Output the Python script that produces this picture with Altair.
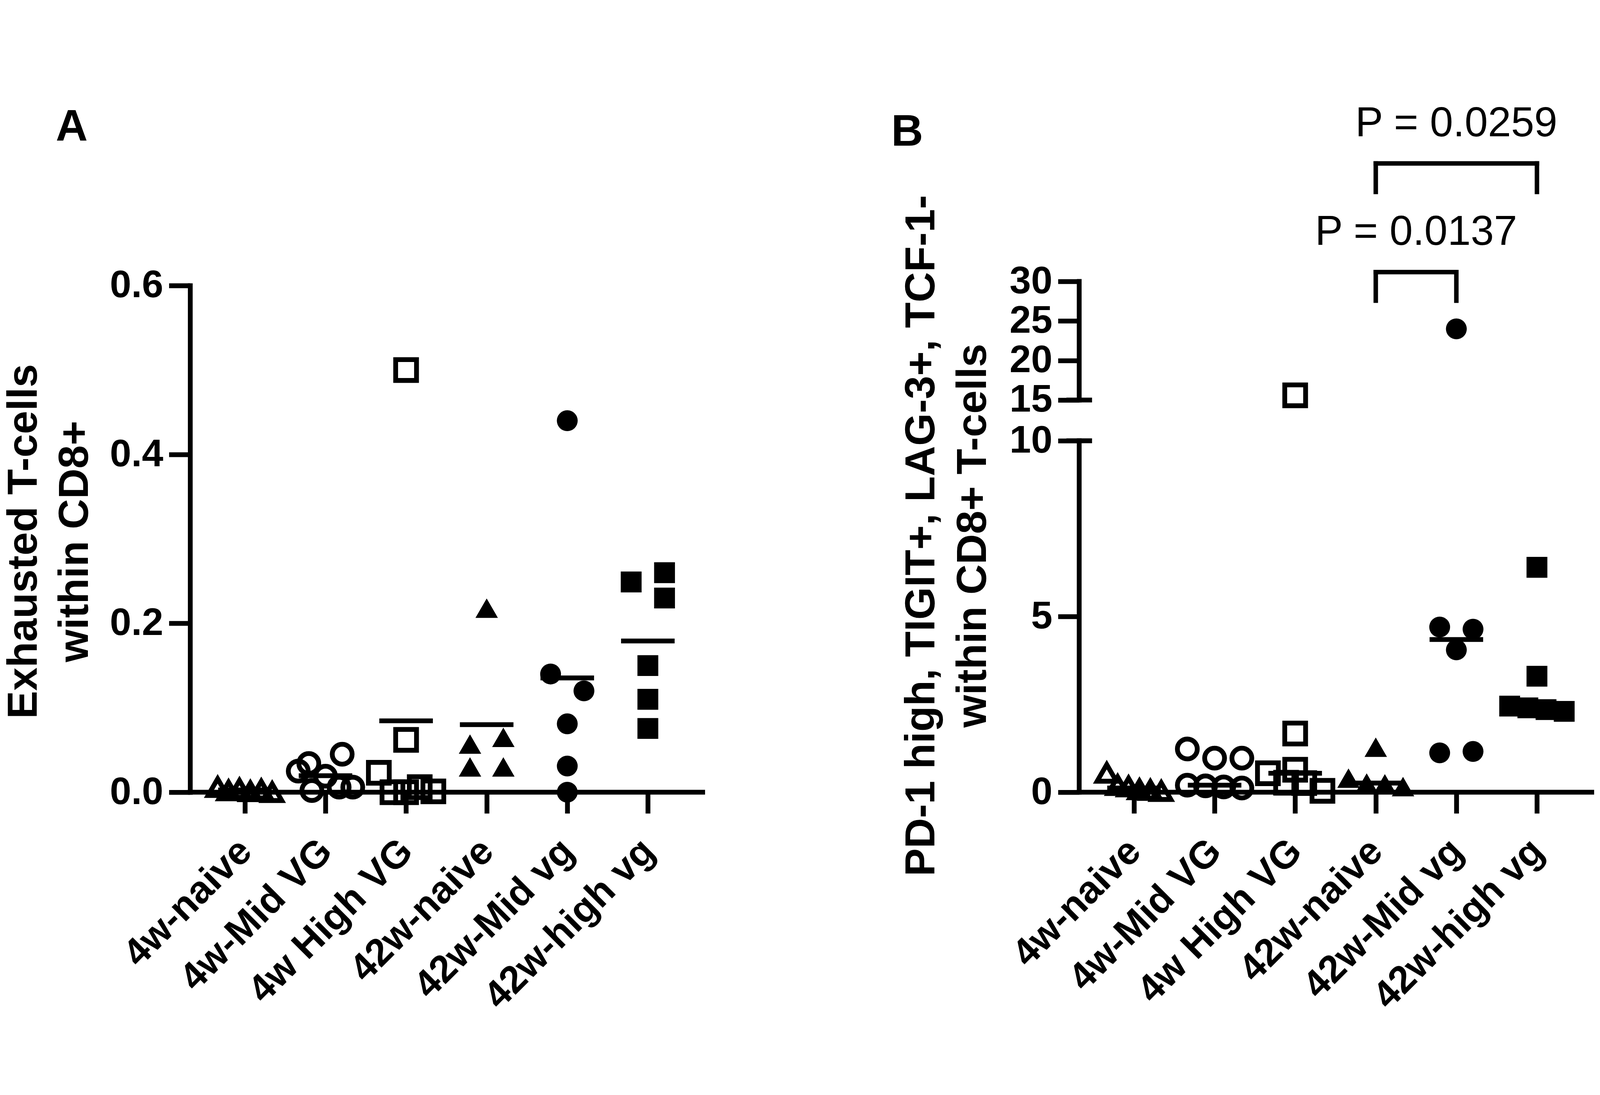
import altair as alt
import pandas as pd

# ---------------- data ----------------
groups = ["4w-naive", "4w-Mid VG", "4w High VG", "42w-naive", "42w-Mid vg", "42w-high vg"]
shapes = ["triangle-up", "circle", "square", "triangle-up", "circle", "square"]
open_marker = [True, True, True, False, False, False]

# Panel A: Exhausted T-cells within CD8+ (line = mean)
a_4w_naive = [0.006, 0.002, 0.004, 0.001, 0.003, 0.0]
a_4w_mid = [0.025, 0.002, 0.019, 0.034, 0.045, 0.006, 0.006]
a_4w_high = [0.5, 0.062, 0.023, 0.0, 0.0, 0.006, 0.001]
a_42w_naive = [0.218, 0.057, 0.065, 0.03, 0.03]
a_42w_mid = [0.44, 0.14, 0.12, 0.081, 0.031, 0.0]
a_42w_high = [0.249, 0.26, 0.23, 0.15, 0.11, 0.0755]

# Panel B: PD-1 high, TIGIT+, LAG-3+, TCF-1- within CD8+ T-cells (line = median)
b_4w_naive = [0.55, 0.2, 0.16, 0.08, 0.06, 0.03]
b_4w_mid = [1.23, 0.97, 0.97, 0.2, 0.18, 0.15, 0.12]
b_4w_high = [15.6, 1.67, 0.64, 0.54, 0.27, 0.26, 0.04]
b_42w_naive = [1.28, 0.40, 0.26, 0.24, 0.16]
b_42w_mid = [24.0, 4.7, 4.64, 4.05, 1.12, 1.16]
b_42w_high = [6.4, 3.3, 2.45, 2.4, 2.35, 2.3]

a_series = [a_4w_naive, a_4w_mid, a_4w_high, a_42w_naive, a_42w_mid, a_42w_high]
b_series = [b_4w_naive, b_4w_mid, b_4w_high, b_42w_naive, b_42w_mid, b_42w_high]

a_ticks = [0, 0.2, 0.4, 0.6]
b_ticks = [0, 5, 10, 15, 20, 25, 30]

comparisons_g1 = ["42w-naive", "42w-naive"]
comparisons_g2 = ["42w-Mid vg", "42w-high vg"]
comparisons_p = ["P = 0.0137", "P = 0.0259"]

panel_labels = ["A", "B"]
title_a = ["Exhausted T-cells", "within CD8+"]
title_b = ["PD-1 high, TIGIT+, LAG-3+, TCF-1-", "within CD8+ T-cells"]

# ---------------- layout / style ----------------
FONT = "Liberation Sans"
W = 1598            # width of each panel's plot area
HA = 1580           # plot height
PANEL_GAP = 1174    # between panel A's right edge and panel B's y axis
TW = 2 * W + PANEL_GAP
PAD = 0.68
STEP = W / (len(groups) - 1 + 2 * PAD)
X0 = -PAD
BOFF = (W + PANEL_GAP) / STEP          # x offset of panel B in category units
A_MAX = 0.6
B_DOMAIN = [0, 10, 15, 30]
B_RANGE = [HA, 484, 357, -13]          # broken axis: 0-10 and 15-30 segments
# annotations, in px below the plot top (negative = above)
BRACKET_TOP_PX = [-42, -381]
BRACKET_LEG_PX = [47, -292]
BRACKET_TEXT_PX = [-127, -466]
# (px right of the panel's y axis, px below the plot top)
LETTER_A_PX = (-419, -452)
LETTER_B_PX = (-586, -436)
TITLE_A_PX = ([-478, -319], 798)
TITLE_B_PX = ([-452, -291], 780)

OPEN_SIZE = {"triangle-up": 3600, "circle": 3844, "square": 4225}
FILLED_SIZE = {"triangle-up": 4900, "circle": 4225, "square": 4225}

ROW = 62
SPREAD = 104
MAXHALF = 85
COLL = 65

b_lo_px = (B_RANGE[0] - B_RANGE[1]) / (B_DOMAIN[1] - B_DOMAIN[0])
b_up_px = (B_RANGE[2] - B_RANGE[3]) / (B_DOMAIN[3] - B_DOMAIN[2])
b_gap_px = (B_RANGE[1] - B_RANGE[2]) / (B_DOMAIN[2] - B_DOMAIN[1])


def a_val(px_from_top):
    return A_MAX - px_from_top * A_MAX / HA


def b_val(px_from_top):
    if px_from_top <= B_RANGE[2]:
        return B_DOMAIN[3] - (px_from_top - B_RANGE[3]) / b_up_px
    if px_from_top <= B_RANGE[1]:
        return B_DOMAIN[2] - (px_from_top - B_RANGE[2]) / b_gap_px
    return B_DOMAIN[1] - (px_from_top - B_RANGE[1]) / b_lo_px


def spread_offsets(vals, to_px):
    n = len(vals)
    pix = [to_px(v) for v in vals]
    order = sorted(range(n), key=lambda i: pix[i])
    rows = []
    for i in order:
        if rows and pix[i] - pix[rows[-1][0]] < ROW:
            rows[-1].append(i)
        else:
            rows.append([i])
    off = [0.0] * n
    placed = []
    for row in rows:
        members = sorted(row)
        k = len(members)
        if k == 1:
            i = members[0]
            chosen = 0.0
            for c in (0.0, SPREAD / 2, -SPREAD / 2):
                if all((c - off[j]) ** 2 + (pix[i] - pix[j]) ** 2 >= COLL ** 2 for j in placed):
                    chosen = c
                    break
            off[i] = chosen
        else:
            s = min(SPREAD, 2 * MAXHALF / (k - 1))
            for r, i in enumerate(members):
                off[i] = (r - (k - 1) / 2) * s
        placed.extend(members)
    return off


def px_a(v):
    return v * HA / A_MAX


def px_b(v):
    if v <= B_DOMAIN[1]:
        return v * b_lo_px
    return 1e6 + (v - B_DOMAIN[2]) * b_up_px


def build(series, to_px, xshift):
    rows = []
    for gi, vals in enumerate(series):
        offs = spread_offsets(vals, to_px)
        for v, o in zip(vals, offs):
            rows.append({
                "group": groups[gi],
                "xc": gi + xshift,
                "value": v,
                "x": gi + xshift + o / STEP,
                "open": open_marker[gi],
                "shape": shapes[gi],
                "size": OPEN_SIZE[shapes[gi]] if open_marker[gi] else FILLED_SIZE[shapes[gi]],
            })
    return pd.DataFrame(rows)


dfA = build(a_series, px_a, 0.0)
dfB = build(b_series, px_b, BOFF)

names_js = "[" + ",".join("'" + g + "'" for g in groups) + "]"
label_expr = (f"datum.value < {BOFF / 2:.4f} ? {names_js}[round(datum.value)] : "
              f"{names_js}[round(datum.value - {BOFF:.6f})]")

x_scale = alt.Scale(domain=[X0, X0 + TW / STEP], nice=False, zero=False)
x_axis = alt.Axis(values=[i for i in range(len(groups))] + [i + BOFF for i in range(len(groups))],
                  labelExpr=label_expr, labelAngle=-45, domain=False,
                  title=None, labelPadding=58, labelOffset=-40, labelOverlap=False, labelBound=False,
                  labelFlush=False, labelLimit=0)
a_scale = alt.Scale(domain=[0, A_MAX], nice=False, zero=False)
b_scale = alt.Scale(domain=B_DOMAIN, range=B_RANGE, nice=False, zero=False)

shape_enc = alt.Shape("shape:N", scale=None, legend=None)
size_enc = alt.Size("size:Q", scale=None, legend=None)


def point_layers(df, x_enc, y_enc):
    p_open = alt.Chart(df[df["open"]]).mark_point(
        filled=False, strokeWidth=15, color="black", opacity=1).encode(
        x=x_enc, y=y_enc, shape=shape_enc, size=size_enc)
    p_fill = alt.Chart(df[~df["open"]]).mark_point(
        filled=True, color="black", opacity=1, strokeWidth=0).encode(
        x=alt.X("x:Q", scale=x_scale), y=alt.Y("value:Q"), shape=shape_enc, size=size_enc)
    return [p_open, p_fill]


def text_at(text, xval, yval, ysc, size, weight, angle=0, align="left"):
    return alt.Chart(pd.DataFrame({"t": [text]})).mark_text(
        font=FONT, fontSize=size, fontWeight=weight, color="black", align=align,
        baseline="alphabetic", angle=angle
    ).encode(x=alt.X(datum=xval, scale=x_scale), y=alt.Y(datum=yval, scale=ysc), text="t:N")


def rule_v(xval, y1, y2, ysc):
    return alt.Chart(pd.DataFrame({"y1": [y1], "y2": [y2]})).mark_rule(
        strokeWidth=15, color="black", strokeCap="square").encode(
        x=alt.X(datum=xval, scale=x_scale), y=alt.Y("y1:Q", scale=ysc), y2="y2:Q")


def rule_h(x1, x2, yval, ysc):
    return alt.Chart(pd.DataFrame({"x1": [x1], "x2": [x2]})).mark_rule(
        strokeWidth=15, color="black", strokeCap="square").encode(
        x=alt.X("x1:Q", scale=x_scale), x2="x2:Q", y=alt.Y(datum=yval, scale=ysc))


def axis_cap(xval, yval, ysc):
    return alt.Chart(pd.DataFrame({"v": [yval]})).mark_tick(
        orient="horizontal", size=80, thickness=15, color="black", opacity=1).encode(
        x=alt.X(datum=xval, scale=x_scale), y=alt.Y("v:Q", scale=ysc))


# ---------------- panel A ----------------
xA = alt.X("x:Q", scale=x_scale, axis=x_axis)
yA = alt.Y("value:Q", scale=a_scale,
           axis=alt.Axis(values=a_ticks, format=".1f", title=None, labelOverlap=False))
meanA = alt.Chart(dfA).mark_tick(orient="horizontal", size=167, thickness=15, color="black", opacity=1).encode(
    x=alt.X("xc:Q", scale=x_scale), y=alt.Y("mean(value):Q", scale=a_scale))

A_layers = point_layers(dfA, xA, yA) + [
    meanA,
    rule_h(X0, X0 + W / STEP, 0, a_scale),
    text_at(panel_labels[0], X0 + LETTER_A_PX[0] / STEP, a_val(LETTER_A_PX[1]), a_scale, 138, "bold"),
    text_at(title_a[0], X0 + TITLE_A_PX[0][0] / STEP, a_val(TITLE_A_PX[1]), a_scale, 131, "bold", 270, "center"),
    text_at(title_a[1], X0 + TITLE_A_PX[0][1] / STEP, a_val(TITLE_A_PX[1]), a_scale, 131, "bold", 270, "center"),
]
groupA = alt.layer(*A_layers)

# ---------------- panel B ----------------
BX0 = X0 + BOFF
xB = alt.X("x:Q", scale=x_scale)
yB = alt.Y("value:Q", scale=b_scale,
           axis=alt.Axis(values=b_ticks, format="d", title=None, orient="left",
                         offset=-(W + PANEL_GAP), domain=False, labelOverlap=False))
medB = alt.Chart(dfB).mark_tick(orient="horizontal", size=167, thickness=15, color="black", opacity=1).encode(
    x=alt.X("xc:Q", scale=x_scale), y=alt.Y("median(value):Q", scale=b_scale))

idx_of = {g: i for i, g in enumerate(groups)}
brk = pd.DataFrame({
    "i1": [idx_of[g] + BOFF for g in comparisons_g1],
    "i2": [idx_of[g] + BOFF for g in comparisons_g2],
    "label": comparisons_p,
    "top": [b_val(p) for p in BRACKET_TOP_PX],
    "leg": [b_val(p) for p in BRACKET_LEG_PX],
    "ty": [b_val(p) for p in BRACKET_TEXT_PX],
})
brk_base = alt.Chart(brk)
br_h = brk_base.mark_rule(strokeWidth=14, color="black", strokeCap="square").encode(
    x=alt.X("i1:Q", scale=x_scale), x2="i2:Q", y=alt.Y("top:Q", scale=b_scale))
br_l = brk_base.mark_rule(strokeWidth=14, color="black", strokeCap="square").encode(
    x=alt.X("i1:Q", scale=x_scale), y=alt.Y("top:Q", scale=b_scale), y2="leg:Q")
br_r = brk_base.mark_rule(strokeWidth=14, color="black", strokeCap="square").encode(
    x=alt.X("i2:Q", scale=x_scale), y=alt.Y("top:Q", scale=b_scale), y2="leg:Q")
br_t = brk_base.transform_calculate(xm="(datum.i1 + datum.i2) / 2").mark_text(
    font=FONT, fontSize=130, fontWeight="normal", color="black", align="center", baseline="alphabetic").encode(
    x=alt.X("xm:Q", scale=x_scale), y=alt.Y("ty:Q", scale=b_scale), text="label:N")

B_layers = point_layers(dfB, xB, yB) + [
    medB,
    rule_v(BX0, B_DOMAIN[0], B_DOMAIN[1], b_scale),
    rule_v(BX0, B_DOMAIN[2], B_DOMAIN[3], b_scale),
    axis_cap(BX0, B_DOMAIN[1], b_scale),
    axis_cap(BX0, B_DOMAIN[2], b_scale),
    rule_h(BX0, BX0 + W / STEP, 0, b_scale),
    br_h, br_l, br_r, br_t,
    text_at(panel_labels[1], BX0 + LETTER_B_PX[0] / STEP, b_val(LETTER_B_PX[1]), b_scale, 138, "bold"),
    text_at(title_b[0], BX0 + TITLE_B_PX[0][0] / STEP, b_val(TITLE_B_PX[1]), b_scale, 131, "bold", 270, "center"),
    text_at(title_b[1], BX0 + TITLE_B_PX[0][1] / STEP, b_val(TITLE_B_PX[1]), b_scale, 131, "bold", 270, "center"),
]
groupB = alt.layer(*B_layers)

chart = alt.layer(groupA, groupB).resolve_scale(y="independent").properties(
    width=TW, height=HA,
    padding={"left": 0, "top": 0, "right": 5, "bottom": 5},
).configure(font=FONT).configure_view(stroke=None).configure_axis(
    domainColor="black", domainWidth=15, domainCap="square",
    tickColor="black", tickWidth=15, tickSize=66,
    labelFont=FONT, labelFontSize=120, labelFontWeight="bold", labelColor="black", labelPadding=18,
    grid=False,
)

chart.save("out.html", embed_options={"renderer": "svg", "actions": False})
